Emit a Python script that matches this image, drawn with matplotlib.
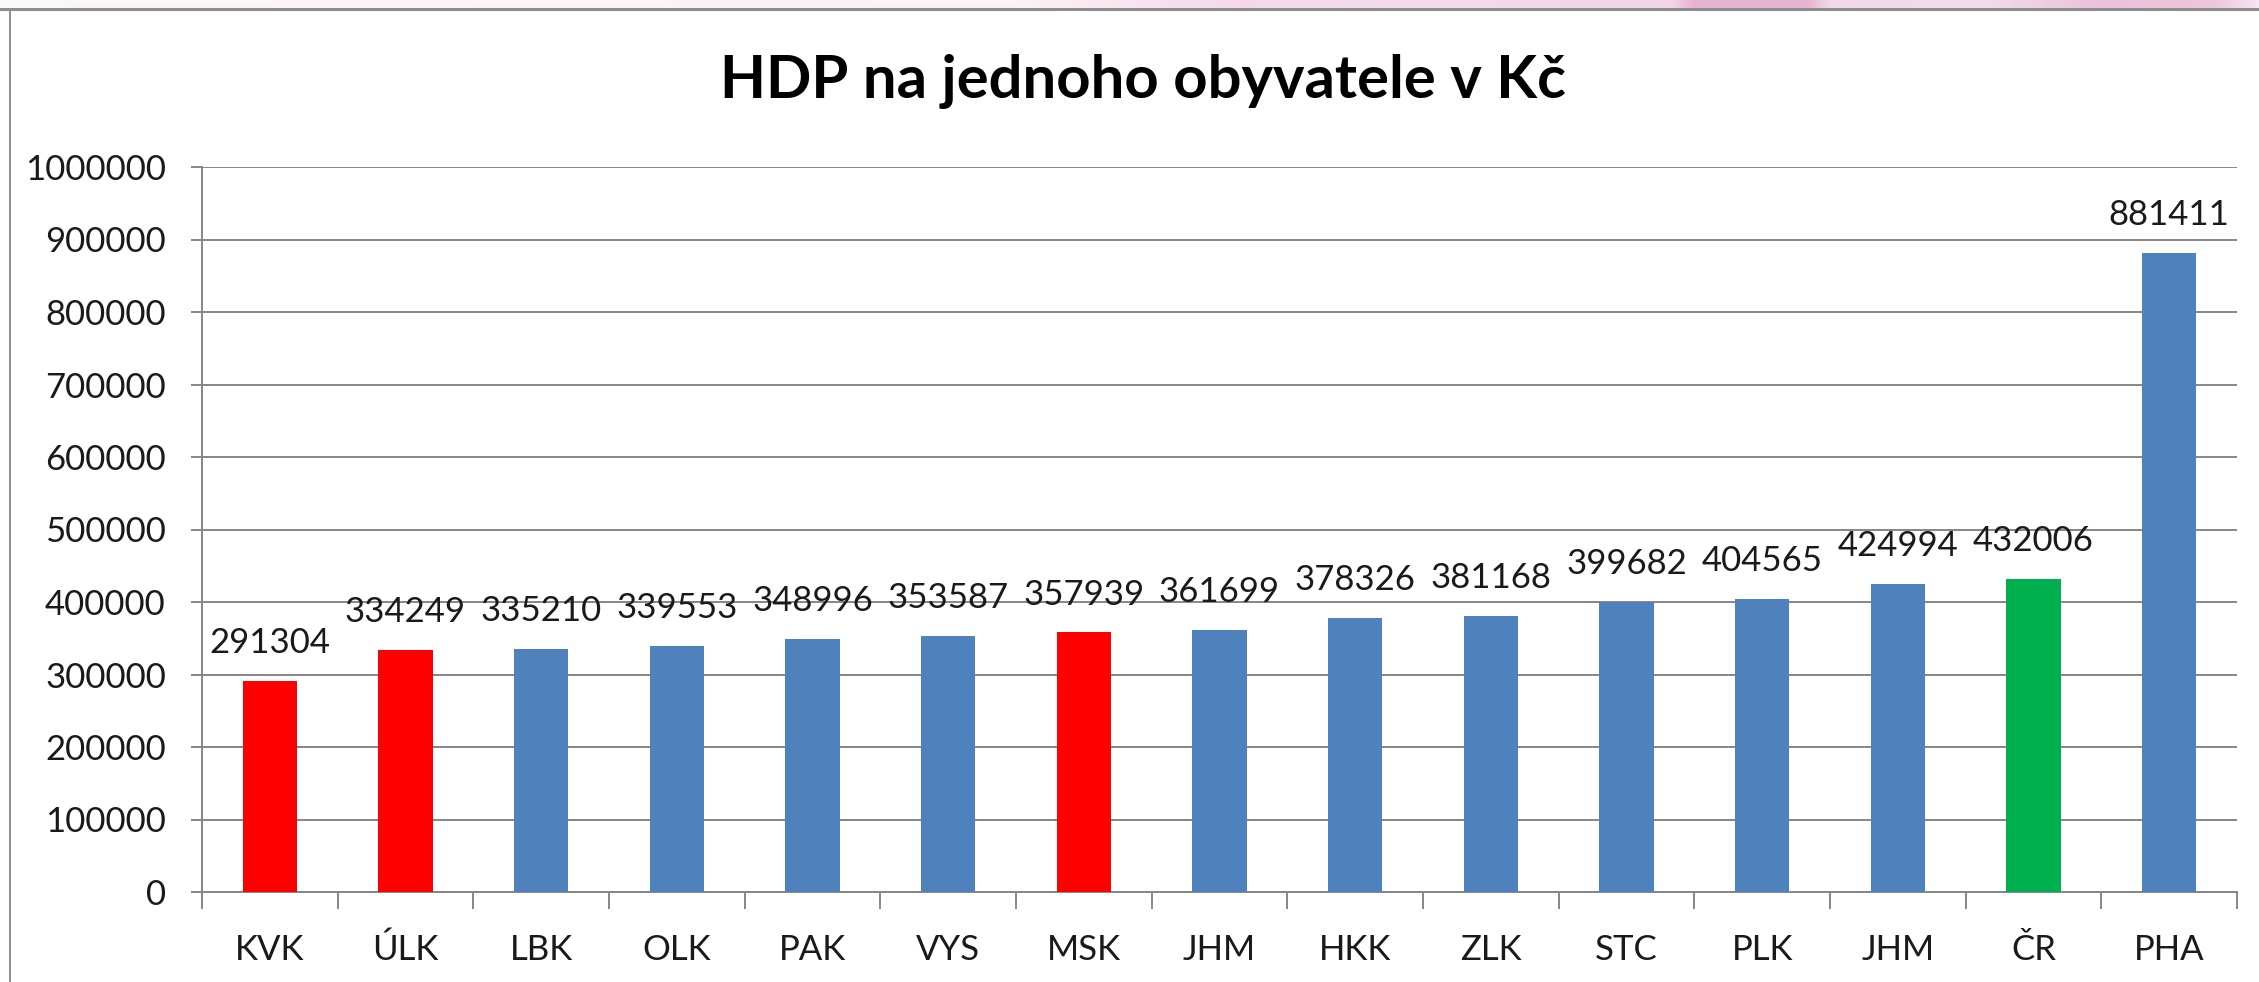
import matplotlib.pyplot as plt
import numpy as np
from matplotlib.lines import Line2D

# data
regions = ["KVK", "ÚLK", "LBK", "OLK", "PAK", "VYS", "MSK", "JHM",
           "HKK", "ZLK", "STC", "PLK", "JHM", "ČR", "PHA"]
hdp = [291304, 334249, 335210, 339553, 348996, 353587, 357939, 361699,
       378326, 381168, 399682, 404565, 424994, 432006, 881411]
red_idx = [0, 1, 6]
green_idx = [13]

blue = "#4F81BD"
colors = [blue] * len(regions)
for i in red_idx:
    colors[i] = "#FF0000"
for i in green_idx:
    colors[i] = "#00B050"

plt.rcParams['font.family'] = ['Lato', 'DejaVu Sans']

W, H = 2259, 982
fig = plt.figure(figsize=(W / 100, H / 100), dpi=100)
fig.patch.set_facecolor("white")

# pinkish strip at the very top (background of the slide)
strip = fig.add_axes([0, 1 - 8 / H, 1, 8 / H])
xs = np.linspace(0, 1, W)
stops_x = [0, 0.45, 0.55, 0.6, 0.74, 0.75, 0.8, 0.81, 0.88, 0.93, 0.98, 1]
stops_c = np.array([
    [0.98, 0.97, 0.98], [0.99, 0.95, 0.97], [0.96, 0.85, 0.91],
    [0.96, 0.86, 0.92], [0.95, 0.84, 0.91], [0.91, 0.70, 0.82],
    [0.91, 0.70, 0.82], [0.95, 0.85, 0.91], [0.95, 0.86, 0.92],
    [0.92, 0.76, 0.86], [0.93, 0.78, 0.87], [0.97, 0.90, 0.94]])
grad = np.stack([np.interp(xs, stops_x, stops_c[:, k]) for k in range(3)], axis=-1)
strip.imshow(grad[None, :, :], aspect="auto", extent=[0, 1, 0, 1])
strip.axis("off")

# chart frame lines (top and left edge visible)
fig.add_artist(Line2D([0, 1], [1 - 9 / H, 1 - 9 / H], color="#8c8c8c", lw=2.2,
                      transform=fig.transFigure))
fig.add_artist(Line2D([10 / W, 10 / W], [0, 1 - 9 / H], color="#8c8c8c", lw=1.4,
                      transform=fig.transFigure))

ax = fig.add_axes([202 / W, 1 - 892 / H, (2237 - 202) / W, (892 - 167) / H])
x = np.arange(len(regions))
bars = ax.bar(x, hdp, width=0.4, color=colors, zorder=3)

for xi, v in zip(x, hdp):
    ax.annotate(str(v), (xi, v), xytext=(0, 20), textcoords="offset points",
                ha="center", va="baseline", fontsize=25, color="#1a1a1a")

ax.set_xlim(-0.5, len(regions) - 0.5)
ax.set_ylim(0, 1000000)
ax.set_yticks(np.arange(0, 1000001, 100000))
ax.set_yticklabels([str(int(t)) for t in np.arange(0, 1000001, 100000)])
ax.yaxis.grid(True, color="#868686", lw=1.4, zorder=0)
ax.set_xticks(x)
ax.set_xticklabels(regions)
ax.set_xticks(np.arange(-0.5, len(regions), 1), minor=True)

ax.tick_params(axis="x", which="major", length=0, pad=30, labelsize=25, labelcolor="#1a1a1a")
ax.tick_params(axis="x", which="minor", length=12, width=1.4, color="#868686", direction="out")
ax.tick_params(axis="y", length=8, width=1.4, color="#868686", pad=18, labelsize=25,
               labelcolor="#1a1a1a")

for s in ["top", "right"]:
    ax.spines[s].set_visible(False)
for s in ["left", "bottom"]:
    ax.spines[s].set_color("#868686")
    ax.spines[s].set_linewidth(1.4)

fig.text(1143 / W, 1 - 98 / H, "HDP na jednoho obyvatele v Kč", ha="center", va="baseline",
         fontsize=43, fontweight="bold", color="black")

fig.savefig("out.png", dpi=100)
